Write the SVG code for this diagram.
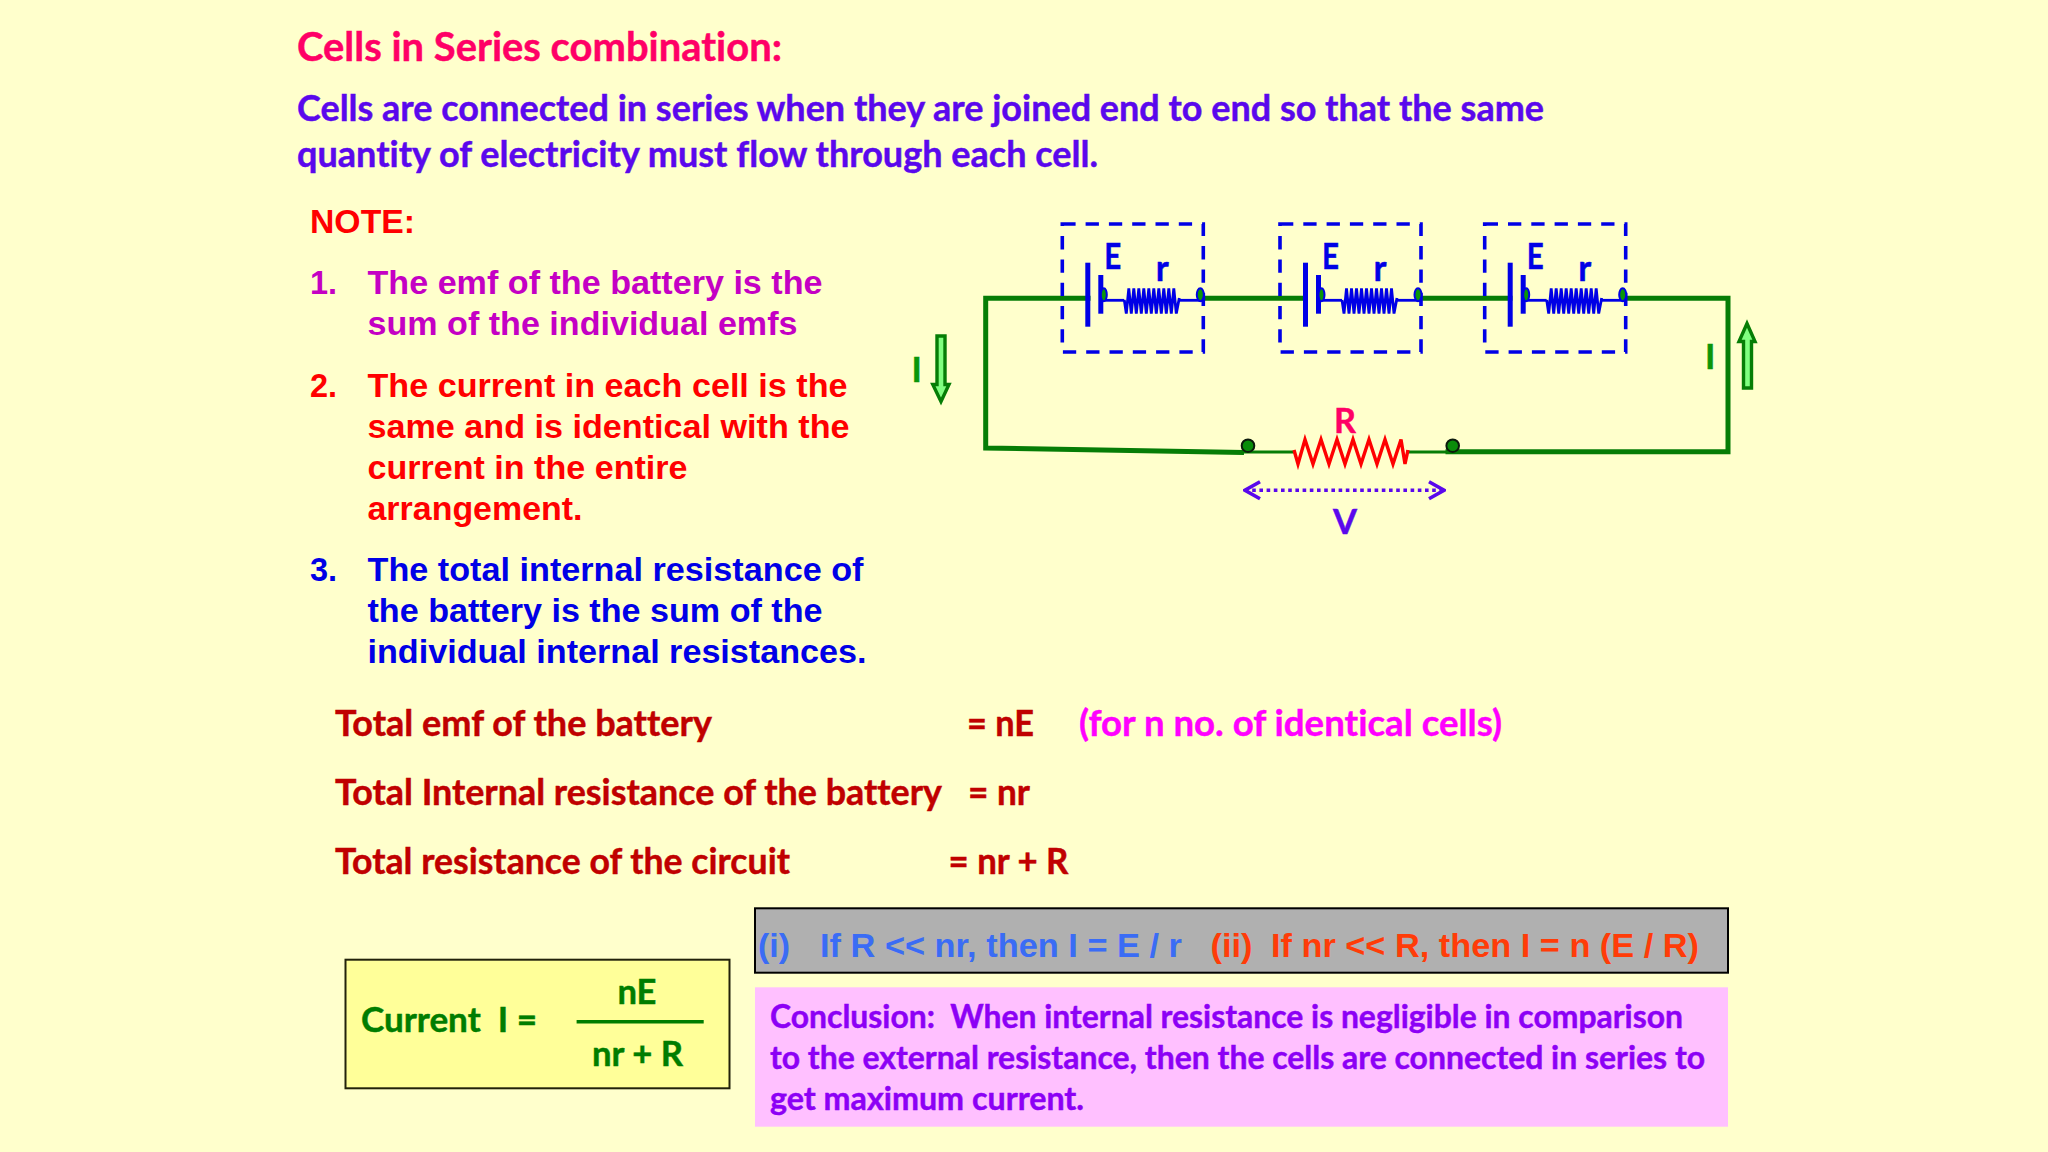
<svg xmlns="http://www.w3.org/2000/svg" width="2048" height="1152" viewBox="0 0 2048 1152">
<style>
text{white-space:pre;font-variant-ligatures:none}
.c{font-family:"Lato","Open Sans",sans-serif;font-weight:700;stroke-width:.45;transform:translateY(1px)}
.a{font-family:"Liberation Sans",Arial,sans-serif;font-weight:700;font-size:32.5px}
.title{font-size:40px;fill:#ff0066;stroke:#ff0066}
.intro{font-size:35.5px;fill:#5a08ec;stroke:#5a08ec}
.tot{font-size:36px;fill:#c00000;stroke:#c00000}
.con{font-size:32px;fill:#8c00f5;stroke:#8c00f5}
.form{font-size:33.5px;fill:#007d00;stroke:#007d00}
.lbl{font-size:36px;fill:#0000e6;stroke:#0000e6}
.m{fill:#c400c4}.rd{fill:#ff0000}.bl{fill:#0000e6}
.wire{fill:none;stroke:#067d06;stroke-width:5;stroke-linecap:square;stroke-linejoin:miter}
.thin{fill:none;stroke:#067d06;stroke-width:3}
.bw{fill:none;stroke:#0000e6;stroke-width:2.8}
.box{fill:none;stroke:#0000e6;stroke-width:3.6;stroke-dasharray:13.3 10}
.plate{fill:#0000e6}
.dot{fill:#0a960a;stroke:#0000e6;stroke-width:2}
.term{fill:#0a8c0a;stroke:#0c1a0c;stroke-width:2}
.block{fill:#80ff80;stroke:#067d06;stroke-width:3.4}
</style>
<defs>
<polyline id="coil" points="0,300 2,313.5 4.5,288.5 7,313.5 9.5,288.5 12,313.5 14.5,288.5 17,313.5 19.5,288.5 22,313.5 24.5,288.5 27,313.5 29.5,288.5 32,313.5 34.5,288.5 37,313.5 39.5,288.5 42,313.5 44.5,288.5 47,313.5 49.5,288.5 52,313.5 55,298"/>
<marker id="chev" markerUnits="userSpaceOnUse" markerWidth="24" markerHeight="24" refX="22" refY="12" orient="auto-start-reverse" viewBox="0 0 24 24">
<polyline points="7,3.5 22,12 7,20.5" fill="none" stroke="#5a08ec" stroke-width="3.6"/>
</marker>
</defs>
<rect id="background" width="2048" height="1152" fill="#ffffcc"/>

<g id="heading">
<text class="c title" x="297" y="60" textLength="485" lengthAdjust="spacingAndGlyphs">Cells in Series combination:</text>
<text class="c intro" x="297" y="120" textLength="1247" lengthAdjust="spacingAndGlyphs">Cells are connected in series when they are joined end to end so that the same</text>
<text class="c intro" x="297" y="166" textLength="801" lengthAdjust="spacingAndGlyphs">quantity of electricity must flow through each cell.</text>
</g>

<g id="notes">
<text class="a rd" x="310" y="233" textLength="105" lengthAdjust="spacingAndGlyphs">NOTE:</text>
<text class="a m" x="310" y="294.3">1.</text>
<text class="a m" x="367.5" y="294.3" textLength="455" lengthAdjust="spacingAndGlyphs">The emf of the battery is the</text>
<text class="a m" x="367.5" y="335" textLength="430" lengthAdjust="spacingAndGlyphs">sum of the individual emfs</text>
<text class="a rd" x="310" y="396.7">2.</text>
<text class="a rd" x="367.5" y="396.7" textLength="480" lengthAdjust="spacingAndGlyphs">The current in each cell is the</text>
<text class="a rd" x="367.5" y="437.5" textLength="482" lengthAdjust="spacingAndGlyphs">same and is identical with the</text>
<text class="a rd" x="367.5" y="478.5" textLength="320" lengthAdjust="spacingAndGlyphs">current in the entire</text>
<text class="a rd" x="367.5" y="519.8" textLength="215" lengthAdjust="spacingAndGlyphs">arrangement.</text>
<text class="a bl" x="310" y="580.7">3.</text>
<text class="a bl" x="367.5" y="580.7" textLength="496" lengthAdjust="spacingAndGlyphs">The total internal resistance of</text>
<text class="a bl" x="367.5" y="621.7" textLength="455" lengthAdjust="spacingAndGlyphs">the battery is the sum of the</text>
<text class="a bl" x="367.5" y="662.8" textLength="499" lengthAdjust="spacingAndGlyphs">individual internal resistances.</text>
</g>

<g id="connectors">
<polyline class="wire" points="1088,298.3 985.7,298.3 985.7,448 1241.5,452.5"/>
<line class="thin" x1="1241" y1="452" x2="1295" y2="452"/>
<line class="thin" x1="1406" y1="452" x2="1450" y2="452"/>
<polyline class="wire" points="1448,451.7 1728,451.7 1728,298.3 1626,298.3"/>
<line class="wire" x1="1203" y1="298.3" x2="1305" y2="298.3"/>
<line class="wire" x1="1421" y1="298.3" x2="1510" y2="298.3"/>
<line id="voltage-span" x1="1245" y1="490.3" x2="1444" y2="490.3" stroke="#5a08ec" stroke-width="3.6" stroke-dasharray="3.6 3.6" marker-start="url(#chev)" marker-end="url(#chev)"/>
</g>

<g id="cell-1" transform="translate(1062.3 0)">
<rect class="box" x="0" y="224" width="141" height="128"/>
<rect class="plate" x="23" y="262.7" width="5" height="64"/>
<rect class="plate" x="36" y="275" width="5" height="38.7"/>
<line class="bw" x1="40" y1="300.3" x2="62" y2="300.3"/>
<use href="#coil" class="bw" x="62"/>
<line class="bw" x1="117" y1="300.3" x2="141" y2="300.3"/>
<ellipse class="dot" cx="41.5" cy="294.7" rx="3" ry="6.5"/>
<ellipse class="dot" cx="138" cy="294.7" rx="3.5" ry="6.5"/>
<text class="c lbl" x="42" y="267.7" textLength="17" lengthAdjust="spacingAndGlyphs">E</text>
<text class="c lbl" x="93.5" y="280" textLength="13" lengthAdjust="spacingAndGlyphs">r</text>
</g>
<g id="cell-2" transform="translate(1280 0)">
<rect class="box" x="0" y="224" width="141" height="128"/>
<rect class="plate" x="23" y="262.7" width="5" height="64"/>
<rect class="plate" x="36" y="275" width="5" height="38.7"/>
<line class="bw" x1="40" y1="300.3" x2="62" y2="300.3"/>
<use href="#coil" class="bw" x="62"/>
<line class="bw" x1="117" y1="300.3" x2="141" y2="300.3"/>
<ellipse class="dot" cx="41.5" cy="294.7" rx="3" ry="6.5"/>
<ellipse class="dot" cx="138" cy="294.7" rx="3.5" ry="6.5"/>
<text class="c lbl" x="42" y="267.7" textLength="17" lengthAdjust="spacingAndGlyphs">E</text>
<text class="c lbl" x="93.5" y="280" textLength="13" lengthAdjust="spacingAndGlyphs">r</text>
</g>
<g id="cell-3" transform="translate(1484.7 0)">
<rect class="box" x="0" y="224" width="141" height="128"/>
<rect class="plate" x="23" y="262.7" width="5" height="64"/>
<rect class="plate" x="36" y="275" width="5" height="38.7"/>
<line class="bw" x1="40" y1="300.3" x2="62" y2="300.3"/>
<use href="#coil" class="bw" x="62"/>
<line class="bw" x1="117" y1="300.3" x2="141" y2="300.3"/>
<ellipse class="dot" cx="41.5" cy="294.7" rx="3" ry="6.5"/>
<ellipse class="dot" cx="138" cy="294.7" rx="3.5" ry="6.5"/>
<text class="c lbl" x="42" y="267.7" textLength="17" lengthAdjust="spacingAndGlyphs">E</text>
<text class="c lbl" x="93.5" y="280" textLength="13" lengthAdjust="spacingAndGlyphs">r</text>
</g>

<g id="resistor-R">
<polyline points="1294,450 1298,464 1305,439.5 1313,464 1321,439.5 1329,464 1337,439.5 1345,464 1353,439.5 1361,464 1369,439.5 1377,464 1385,439.5 1393,464 1401,439.5 1405,464 1408,450" fill="none" stroke="#ff0000" stroke-width="3.4"/>
<text class="c" x="1334" y="431.7" font-size="35" fill="#ff0066" stroke="#ff0066" textLength="22" lengthAdjust="spacingAndGlyphs">R</text>
</g>
<g id="terminal-a"><circle class="term" cx="1248" cy="445.7" r="6.3"/></g>
<g id="terminal-b"><circle class="term" cx="1452.7" cy="445.7" r="6.3"/></g>
<g id="label-V"><text class="c" x="1333" y="533.3" font-size="35" fill="#5a08ec" stroke="#5a08ec" textLength="24" lengthAdjust="spacingAndGlyphs">V</text></g>

<g id="current-left">
<polygon class="block" points="937,336 945,336 945,384.5 949,384.5 941,401.5 932.8,384.5 937,384.5"/>
<text class="c" x="911.5" y="380.5" font-size="35" fill="#0a960a" stroke="#0a960a">I</text>
</g>
<g id="current-right">
<polygon class="block" points="1743.5,388 1751.5,388 1751.5,341.5 1755,341.5 1747,323.5 1739,341.5 1743.5,341.5"/>
<text class="c" x="1705" y="367.5" font-size="35" fill="#0a960a" stroke="#0a960a">I</text>
</g>

<g id="totals">
<text class="c tot" x="335" y="735" textLength="377" lengthAdjust="spacingAndGlyphs">Total emf of the battery</text>
<text class="c tot" x="967" y="735" textLength="67" lengthAdjust="spacingAndGlyphs">= nE</text>
<text class="c" x="1079" y="735" font-size="36" fill="#ff00ff" stroke="#ff00ff" textLength="423" lengthAdjust="spacingAndGlyphs">(for n no. of identical cells)</text>
<text class="c tot" x="335" y="804.3" textLength="607" lengthAdjust="spacingAndGlyphs">Total Internal resistance of the battery</text>
<text class="c tot" x="968" y="804.3" textLength="62" lengthAdjust="spacingAndGlyphs">= nr</text>
<text class="c tot" x="335" y="873.3" textLength="455" lengthAdjust="spacingAndGlyphs">Total resistance of the circuit</text>
<text class="c tot" x="948.5" y="873.3" textLength="120" lengthAdjust="spacingAndGlyphs">= nr + R</text>
</g>

<g id="formula">
<rect x="345.5" y="959.7" width="384" height="128.6" fill="#ffff99" stroke="#22220a" stroke-width="2"/>
<text class="c form" x="361" y="1030.7" textLength="176" lengthAdjust="spacingAndGlyphs">Current  I =</text>
<line x1="576.6" y1="1021.7" x2="703.7" y2="1021.7" stroke="#007d00" stroke-width="3.5"/>
<text class="c form" x="617.5" y="1003.3" textLength="39" lengthAdjust="spacingAndGlyphs">nE</text>
<text class="c form" x="592" y="1065" textLength="91" lengthAdjust="spacingAndGlyphs">nr + R</text>
</g>

<g id="cases">
<rect x="755" y="908.3" width="973" height="64.4" fill="#b0b0b0" stroke="#000000" stroke-width="2"/>
<text class="a" x="758" y="957.3" fill="#3a6cf5" textLength="32" lengthAdjust="spacingAndGlyphs">(i)</text>
<text class="a" x="820" y="957.3" fill="#3a6cf5" textLength="362" lengthAdjust="spacingAndGlyphs">If R &lt;&lt; nr, then I = E / r</text>
<text class="a" x="1210.5" y="957.3" fill="#ff3c08" textLength="42" lengthAdjust="spacingAndGlyphs">(ii)</text>
<text class="a" x="1271" y="957.3" fill="#ff3c08" textLength="428" lengthAdjust="spacingAndGlyphs">If nr &lt;&lt; R, then I = n (E / R)</text>
</g>

<g id="conclusion">
<rect x="755" y="987.3" width="973" height="139.4" fill="#ffc0ff"/>
<text class="c con" x="770" y="1027.2" textLength="913" lengthAdjust="spacingAndGlyphs">Conclusion:  When internal resistance is negligible in comparison</text>
<text class="c con" x="770" y="1068" textLength="935" lengthAdjust="spacingAndGlyphs">to the external resistance, then the cells are connected in series to</text>
<text class="c con" x="770" y="1109" textLength="314" lengthAdjust="spacingAndGlyphs">get maximum current.</text>
</g>
</svg>
